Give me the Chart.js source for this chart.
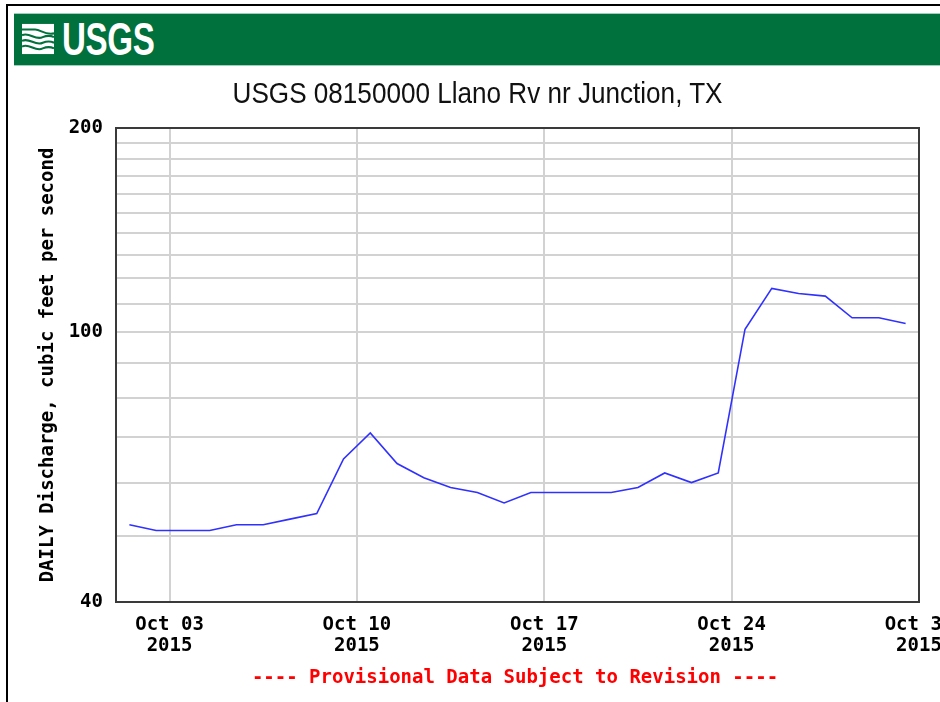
<!DOCTYPE html>
<html>
<head>
<meta charset="utf-8">
<script src="https://cdn.jsdelivr.net/npm/chart.js@4.4.1/dist/chart.umd.min.js"></script>
<style>
  html, body { margin: 0; padding: 0; background: #fff; }
  #page { position: relative; width: 940px; height: 702px; overflow: hidden; background: #fff; }
  #topline { position: absolute; left: 6px; top: 4px; width: 934px; height: 2px; background: #000; }
  #leftline { position: absolute; left: 6px; top: 4px; width: 2px; height: 698px; background: #000; }
  #header { position: absolute; left: 14px; top: 13px; width: 926px; height: 51px; background: #00703c;
            border-top: 1px solid #9fd0bb; border-bottom: 1px solid #9fd0bb; z-index: 2; }
  #logoText { position: absolute; left: 48px; top: 0px; color: #fff; font-family: "Liberation Sans Narrow", "Liberation Sans", Arial, sans-serif;
              font-weight: bold; font-size: 46px; line-height: 50px; transform: scaleX(0.72); transform-origin: left top; letter-spacing: -0.5px; }
  #logoIcon { position: absolute; left: 8px; top: 9px; }
  #title { position: absolute; left: 0; width: 955px; top: 75px; text-align: center; z-index: 2; }
  #title span { display: inline-block; transform: scaleX(0.87);
           font-family: "Liberation Sans Narrow", "Liberation Sans", Arial, sans-serif; font-size: 30px; line-height: 36px; color: #111; white-space: nowrap; }
  #prov { position: absolute; left: 0; width: 1030px; top: 664px; text-align: center; z-index: 2; color: #ff0000;
          font-family: "DejaVu Sans Mono", monospace; font-weight: bold; font-size: 19px; line-height: 24px; white-space: pre; }
  #c { position: absolute; left: 0; top: 0; z-index: 1; }
</style>
</head>
<body>
<div id="page">
  <canvas id="c" width="940" height="702"></canvas>
  <div id="topline"></div>
  <div id="leftline"></div>
  <div id="header">
    <svg id="logoIcon" width="32" height="32" viewBox="0 0 34 32">
      <rect x="0" y="0" width="34" height="32" fill="#ffffff"/>
      <path d="M0 6 L14 6 C20 6 24 12 34 10" stroke="#00703c" stroke-width="2.2" fill="none"/>
      <path d="M0 12 C8 8 14 18 22 14 C27 12 30 12 34 14" stroke="#00703c" stroke-width="2.2" fill="none"/>
      <path d="M0 18 C8 14 14 24 22 20 C27 18 30 18 34 20" stroke="#00703c" stroke-width="2.2" fill="none"/>
      <path d="M0 24 C8 20 14 30 22 26 C27 24 30 24 34 26" stroke="#00703c" stroke-width="2.2" fill="none"/>
    </svg>
    <div id="logoText">USGS</div>
  </div>
  <div id="title"><span>USGS 08150000 Llano Rv nr Junction, TX</span></div>
  <div id="prov">---- Provisional Data Subject to Revision ----</div>
</div>
<script>
// ---- data (daily mean discharge, Oct 2015) ----
const dayOfMonth = [1,2,3,4,5,6,7,8,9,10,11,12,13,14,15,16,17,18,19,20,21,22,23,24,25,26,27,28,29,30];
const discharge  = [52,51,51,51,52,52,53,54,65,71,64,61,59,58,56,58,58,58,58,59,62,60,62,101,116,114,113,105,105,103];
const xTickDays   = [3, 10, 17, 24, 31];
const xTickLabels = [['Oct 03','2015'], ['Oct 10','2015'], ['Oct 17','2015'], ['Oct 24','2015'], ['Oct 31','2015']];
const yGridValues = [40,50,60,70,80,90,100,110,120,130,140,150,160,170,180,190,200];
const yLabeled    = [40, 100, 200];
const yAxisTitle  = 'DAILY Discharge, cubic feet per second';

const points = dayOfMonth.map((d, i) => ({ x: d + 0.5, y: discharge[i] }));
const monoFont = { family: '"DejaVu Sans Mono", monospace', weight: 'bold', size: 19, lineHeight: '21px' };

const frame = {
  id: 'frame',
  afterDraw(chart) {
    const a = chart.chartArea, ctx = chart.ctx;
    ctx.save();
    ctx.strokeStyle = '#3a3a3a';
    ctx.lineWidth = 2;
    ctx.strokeRect(a.left, a.top, a.right - a.left, a.bottom - a.top);
    ctx.restore();
  }
};

new Chart(document.getElementById('c'), {
  type: 'line',
  data: { datasets: [{
    data: points,
    borderColor: '#3030ff',
    borderWidth: 1.6,
    pointRadius: 0,
    tension: 0,
    fill: false
  }]},
  options: {
    responsive: false,
    devicePixelRatio: 1,
    animation: false,
    events: [],
    layout: { padding: { left: 0, top: 128, right: 21, bottom: 40 } },
    plugins: { legend: { display: false }, tooltip: { enabled: false }, title: { display: false } },
    scales: {
      x: {
        type: 'linear',
        min: 1, max: 31,
        afterBuildTicks: s => { s.ticks = xTickDays.map(v => ({ value: v })); },
        afterFit: s => { s.height = 60; s.paddingLeft = 0; s.paddingRight = 0; },
        grid: { color: '#d2d2d2', lineWidth: 2, drawTicks: false },
        border: { display: false },
        ticks: {
          autoSkip: false, maxRotation: 0, padding: 13,
          color: '#000', font: monoFont,
          callback: v => { const i = xTickDays.indexOf(v); return i >= 0 ? xTickLabels[i] : ''; }
        }
      },
      y: {
        type: 'logarithmic',
        min: 40, max: 200,
        afterBuildTicks: s => { s.ticks = yGridValues.map(v => ({ value: v })); },
        afterFit: s => { s.width = 116; s.paddingTop = 0; s.paddingBottom = 0; },
        grid: { color: '#d2d2d2', lineWidth: 2, drawTicks: false },
        border: { display: false },
        ticks: {
          autoSkip: false, padding: 13, color: '#000', font: monoFont,
          callback: v => yLabeled.includes(v) ? String(v) : ''
        },
        title: {
          display: true, text: yAxisTitle, color: '#000',
          font: { family: '"DejaVu Sans Mono", monospace', weight: 'bold', size: 19, lineHeight: 1.2 },
          padding: { top: 37, bottom: 0 }
        }
      }
    }
  },
  plugins: [frame]
});
</script>
</body>
</html>
